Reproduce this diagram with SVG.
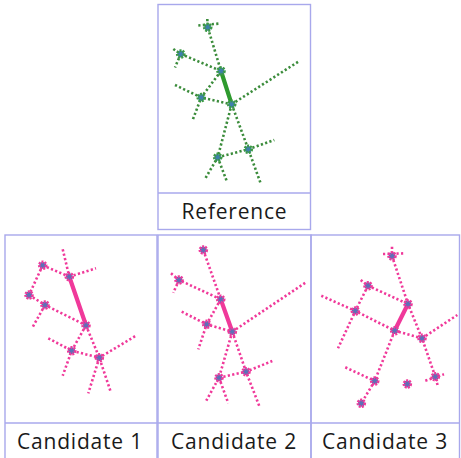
<svg xmlns="http://www.w3.org/2000/svg" width="461" height="458" viewBox="0 0 461 458">
<style>
.frame{fill:none;stroke:#a8a8ec;stroke-width:1.4}
.lbl{font-family:"Open Sans","Noto Sans","Liberation Sans",sans-serif;font-size:21px;letter-spacing:0.8px;fill:#1a1a1a;text-anchor:middle}
.g{fill:none;stroke:#3b8c3b;stroke-width:2.6;stroke-dasharray:2.2 2.3;stroke-linecap:butt}
.gt{fill:none;stroke:#2e9a2e;stroke-width:4.2;stroke-linecap:round}
.p{fill:none;stroke:#f0399a;stroke-width:2.6;stroke-dasharray:2.2 2.3}
.pt{fill:none;stroke:#f0399a;stroke-width:4.2;stroke-linecap:round}
.gn{fill:#3f7fae;stroke:#3c9a45;stroke-width:2.8;stroke-dasharray:1.8 1.1}
.pn{fill:#5a72b8;stroke:#f0399a;stroke-width:2.8;stroke-dasharray:1.8 1.1}
</style>
<rect width="461" height="458" fill="#ffffff"/>
<g id="panels">
<rect class="frame" x="158" y="4.5" width="152.5" height="225"/>
<line class="frame" x1="158" y1="193" x2="310.5" y2="193"/>
<rect class="frame" x="5" y="235" width="152" height="230"/>
<rect class="frame" x="158" y="235" width="153" height="230"/>
<rect class="frame" x="311" y="235" width="148.5" height="230"/>
<line class="frame" x1="5" y1="423" x2="459.5" y2="423"/>
</g>
<g id="labels">
<text class="lbl" x="234.5" y="219">Reference</text>
<text class="lbl" x="80" y="449">Candidate 1</text>
<text class="lbl" x="234" y="449">Candidate 2</text>
<text class="lbl" x="385" y="449">Candidate 3</text>
</g>
<g id="connectors-reference">
<polyline class="g" points="207.3,19 207.7,27.3 221,71"/>
<line class="g" x1="198.3" y1="25.5" x2="220" y2="23.5"/>
<polyline class="g" points="173.3,49 180.7,54 221,71"/>
<line class="g" x1="180.7" y1="54" x2="175" y2="67.5"/>
<polyline class="g" points="221,71 201.2,97.5 192.3,121"/>
<polyline class="g" points="175,85 201.2,97.5 231.7,104.3"/>
<line class="g" x1="231.7" y1="104.3" x2="298.3" y2="61.7"/>
<polyline class="g" points="231.7,104.3 217.7,157.3 205,179"/>
<line class="g" x1="217.7" y1="157.3" x2="226.7" y2="181"/>
<polyline class="g" points="231.7,104.3 248.3,149.3 261,184.3"/>
<polyline class="g" points="217.7,157.3 248.3,149.3 274.3,140"/>
<line class="gt" x1="221" y1="71" x2="231.7" y2="104.3"/>
</g>
<g id="nodes-reference">
<circle id="ref-a" class="gn" cx="207.7" cy="27.3" r="3.4"/>
<circle id="ref-b" class="gn" cx="180.7" cy="54" r="3.4"/>
<circle id="ref-c" class="gn" cx="221" cy="71" r="3.4"/>
<circle id="ref-d" class="gn" cx="201.2" cy="97.5" r="3.4"/>
<circle id="ref-e" class="gn" cx="231.7" cy="104.3" r="3.4"/>
<circle id="ref-f" class="gn" cx="248.3" cy="149.3" r="3.4"/>
<circle id="ref-g" class="gn" cx="217.7" cy="157.3" r="3.4"/>
</g>
<g id="connectors-candidate1">
<line class="p" x1="62.7" y1="249.3" x2="69.3" y2="276.7"/>
<line class="p" x1="69.3" y1="276.7" x2="96" y2="268.3"/>
<line class="p" x1="42.7" y1="265.3" x2="69.3" y2="276.7"/>
<line class="p" x1="42.7" y1="265.3" x2="29" y2="295"/>
<polyline class="p" points="29,295 45,305 86,325.3"/>
<line class="p" x1="45" y1="305" x2="32.3" y2="327.7"/>
<polyline class="p" points="86,325.3 71.7,350.7 62.7,375.7"/>
<polyline class="p" points="86,325.3 99.3,357.7 111,392.7"/>
<polyline class="p" points="48.3,338.3 71.7,350.7 99.3,357.7 136,335.7"/>
<line class="p" x1="99.3" y1="357.7" x2="88.3" y2="393.3"/>
<line class="pt" x1="69.3" y1="276.7" x2="86" y2="325.3"/>
</g>
<g id="nodes-candidate1">
<circle id="c1-a" class="pn" cx="42.7" cy="265.3" r="3.4"/>
<circle id="c1-b" class="pn" cx="69.3" cy="276.7" r="3.4"/>
<circle id="c1-c" class="pn" cx="29" cy="295" r="3.4"/>
<circle id="c1-d" class="pn" cx="45" cy="305" r="3.4"/>
<circle id="c1-e" class="pn" cx="86" cy="325.3" r="3.4"/>
<circle id="c1-f" class="pn" cx="71.7" cy="350.7" r="3.4"/>
<circle id="c1-g" class="pn" cx="99.3" cy="357.7" r="3.4"/>
</g>
<g id="connectors-candidate2">
<line class="p" x1="203.3" y1="250" x2="220.7" y2="299.3"/>
<polyline class="p" points="171,273.3 179,280 220.7,299.3"/>
<line class="p" x1="179" y1="280" x2="173.3" y2="292.7"/>
<polyline class="p" points="220.7,299.3 206.7,324.3 198.3,349.3"/>
<polyline class="p" points="181.7,311.7 206.7,324.3 232.3,331.7"/>
<line class="p" x1="232.3" y1="331.7" x2="306" y2="282.3"/>
<polyline class="p" points="232.3,331.7 219,377.7 205.7,401.7"/>
<line class="p" x1="219" y1="377.7" x2="228.3" y2="403.3"/>
<polyline class="p" points="232.3,331.7 246,371.7 259.3,406"/>
<polyline class="p" points="219,377.7 246,371.7 272.3,361"/>
<line class="pt" x1="220.7" y1="299.3" x2="232.3" y2="331.7"/>
</g>
<g id="nodes-candidate2">
<circle id="c2-a" class="pn" cx="203.3" cy="250" r="3.4"/>
<circle id="c2-b" class="pn" cx="179" cy="280" r="3.4"/>
<circle id="c2-c" class="pn" cx="220.7" cy="299.3" r="3.4"/>
<circle id="c2-d" class="pn" cx="206.7" cy="324.3" r="3.4"/>
<circle id="c2-e" class="pn" cx="232.3" cy="331.7" r="3.4"/>
<circle id="c2-f" class="pn" cx="246" cy="371.7" r="3.4"/>
<circle id="c2-g" class="pn" cx="219" cy="377.7" r="3.4"/>
</g>
<g id="connectors-candidate3">
<line class="p" x1="383" y1="254" x2="405.3" y2="253.3"/>
<polyline class="p" points="392,246.7 392,256 408,304 422,338.3 435.3,376.7 438,386.7"/>
<line class="p" x1="425.3" y1="380.7" x2="444" y2="374.3"/>
<polyline class="p" points="360.7,280 368,285.7 408,304"/>
<polyline class="p" points="368,285.7 355.3,311 338,348.3"/>
<polyline class="p" points="321.3,295.7 355.3,311 394.7,330.7 422,338.3"/>
<line class="p" x1="422" y1="338.3" x2="457.3" y2="315"/>
<polyline class="p" points="394.7,330.7 374.7,381 361.3,403.3"/>
<line class="p" x1="345.3" y1="367.3" x2="374.7" y2="381"/>
<line class="pt" x1="406.3" y1="307.3" x2="396.3" y2="327.3"/>
</g>
<g id="nodes-candidate3">
<circle id="c3-a" class="pn" cx="392" cy="256" r="3.4"/>
<circle id="c3-b" class="pn" cx="368" cy="285.7" r="3.4"/>
<circle id="c3-c" class="pn" cx="408" cy="304" r="3.4"/>
<circle id="c3-d" class="pn" cx="355.3" cy="311" r="3.4"/>
<circle id="c3-e" class="pn" cx="394.7" cy="330.7" r="3.4"/>
<circle id="c3-f" class="pn" cx="422" cy="338.3" r="3.4"/>
<circle id="c3-g" class="pn" cx="374.7" cy="381" r="3.4"/>
<circle id="c3-h" class="pn" cx="407.3" cy="384" r="3.4"/>
<circle id="c3-i" class="pn" cx="435.3" cy="376.7" r="3.4"/>
<circle id="c3-j" class="pn" cx="361.3" cy="403.3" r="3.4"/>
</g>
</svg>
